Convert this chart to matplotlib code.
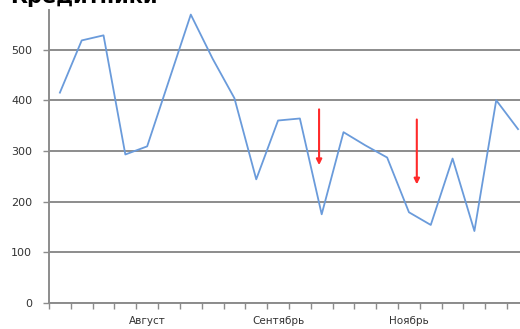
import numpy as np
import matplotlib
matplotlib.use('Agg')
import matplotlib.pyplot as plt

# monthly values, one per period
values = [415, 518, 528, 293, 309, 439, 569, 482, 404, 244, 360,
          364, 175, 337, 311, 287, 179, 154, 285, 142, 400, 343]
month_labels = {4: 'Август', 10: 'Сентябрь', 16: 'Ноябрь'}
yticks = [0, 100, 200, 300, 400, 500]
# red arrows: (x position, start value, end value)
arrows = [(11.88, 382, 272), (16.36, 362, 234)]

x = np.arange(len(values))

fig = plt.figure(figsize=(5.2, 3.29), dpi=100)
ax = fig.add_axes([0.0942, 0.079, 0.923, 0.8906])

ax.plot(x, values, color='#6a9bdb', lw=1.3, zorder=3)

for xa, y0, y1 in arrows:
    ax.annotate('', xy=(xa, y1), xytext=(xa, y0),
                arrowprops=dict(arrowstyle='-|>', color='#ff2a2a', lw=1.5,
                                mutation_scale=8, shrinkA=0, shrinkB=0),
                zorder=4)

ax.set_xlim(-0.5, len(values) - 0.5)
ax.set_ylim(0, 578)
ax.set_yticks(yticks)
ax.set_yticklabels([str(v) for v in yticks])
ax.grid(axis='y', color='#8c8c8c', lw=1.4, zorder=1)

# ticks between categories, labels only under a few of them
ax.set_xticks(np.arange(len(values) + 1) - 0.5)
ax.set_xticklabels([])
ax.set_xticks(list(month_labels.keys()), minor=True)
ax.set_xticklabels(list(month_labels.values()), minor=True)
ax.tick_params(axis='x', which='major', direction='out', length=4,
               color='#8c8c8c', width=1)
ax.tick_params(axis='x', which='minor', length=0, pad=9,
               labelsize=7.5, labelcolor='#333333')
ax.tick_params(axis='y', direction='out', length=4, color='#8c8c8c',
               width=1, labelsize=8, labelcolor='#333333', pad=8)

for s in ['top', 'right']:
    ax.spines[s].set_visible(False)
for s in ['left', 'bottom']:
    ax.spines[s].set_color('#8c8c8c')
    ax.spines[s].set_linewidth(1.4)

# chart title, mostly above the top edge
fig.text(0.02, 0.992, 'Кредитники', fontsize=15, fontweight='bold',
         color='black', va='baseline', ha='left')

fig.savefig('out.png', dpi=100)
